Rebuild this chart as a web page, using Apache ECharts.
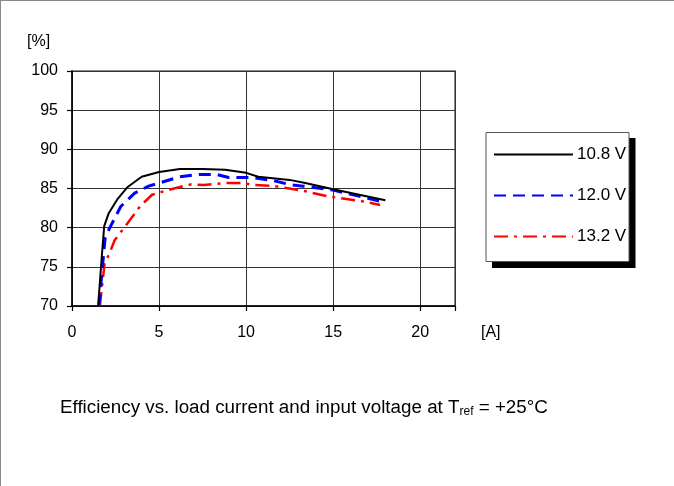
<!DOCTYPE html>
<html>
<head>
<meta charset="utf-8">
<script src="https://cdn.jsdelivr.net/npm/echarts@6/dist/echarts.min.js"></script>
<style>
html,body{margin:0;padding:0;background:#fff;}
#chart{width:674px;height:486px;}
</style>
</head>
<body>
<div id="chart"></div>
<script>
// Data (load current [A], efficiency [%])
var seriesNames = ['10.8 V', '12.0 V', '13.2 V'];
var eff108 = [[1.5,70],[1.7,76],[1.85,80.2],[2.1,81.8],[2.6,83.6],[3.2,85.2],[4.0,86.5],[5.0,87.1],[6.2,87.5],[7.5,87.5],[8.8,87.4],[10,87.0],[10.7,86.5],[12.5,86.1],[13.4,85.7],[15,84.9],[18,83.5]];
var eff120 = [[1.55,70],[1.75,75],[1.9,78.6],[2.15,79.9],[2.8,82.7],[3.6,84.4],[4.4,85.3],[5,85.7],[6.2,86.5],[7.3,86.8],[8.3,86.8],[9,86.4],[10.3,86.4],[11.6,86],[12.5,85.5],[13.3,85.3],[15,84.8],[17,83.75],[18,83.2]];
var eff132 = [[1.6,70],[1.75,73],[1.87,75.4],[2.15,76.7],[2.45,78.4],[3.2,80.6],[3.9,82.7],[4.6,84.2],[5.5,84.8],[6.2,85.2],[6.8,85.5],[7.6,85.45],[8.8,85.7],[9.7,85.7],[10.5,85.45],[11.6,85.3],[12.5,85.0],[13.3,84.7],[14.7,84.0],[16.6,83.4],[17.7,82.9]];
var xTicks = [0, 5, 10, 15, 20];
var yTicks = [70, 75, 80, 85, 90, 95, 100];

var FONT = '"Liberation Sans", Arial, Helvetica, sans-serif';
var chart = echarts.init(document.getElementById('chart'), null, {renderer: 'canvas'});

var option = {
  animation: false,
  backgroundColor: '#fff',
  textStyle: {fontFamily: FONT},
  grid: {left: 72, top: 71, width: 383, height: 235, show: true, borderColor: '#8a8a8a', borderWidth: 2, backgroundColor: 'transparent'},
  xAxis: {
    type: 'value', min: 0, max: 22, interval: 5,
    axisLine: {show: true, onZero: false, lineStyle: {color: '#000', width: 1.5}},
    axisTick: {show: true, length: 5, lineStyle: {color: '#000', width: 1.2}},
    splitLine: {show: true, lineStyle: {color: '#333', width: 1}},
    axisLabel: {fontSize: 16, color: '#000', margin: 19, fontFamily: FONT,
      formatter: function (v) { return xTicks.indexOf(v) >= 0 ? String(v) : ''; }}
  },
  yAxis: {
    type: 'value', min: 70, max: 100, interval: 5,
    axisLine: {show: true, lineStyle: {color: '#000', width: 1.5}},
    axisTick: {show: true, length: 5, lineStyle: {color: '#000', width: 1.2}},
    splitLine: {show: true, lineStyle: {color: '#333', width: 1}},
    axisLabel: {fontSize: 16, color: '#000', margin: 14, fontFamily: FONT,
      formatter: function (v) { return yTicks.indexOf(v) >= 0 ? String(v) : ''; }}
  },
  legend: {
    orient: 'vertical', left: 486, top: 146, z: 10,
    padding: [0, 0, 0, 7],
    itemWidth: 79, itemHeight: 14, itemGap: 24,
    itemStyle: {color: 'rgba(0,0,0,0)', opacity: 0, borderWidth: 0},
    textStyle: {fontSize: 17, lineHeight: 14, color: '#000', fontFamily: FONT, padding: [0, 0, 0, -1]},
    data: seriesNames,
    selectedMode: false
  },
  graphic: [
    {type: 'line', shape: {x1: 0, y1: 0.5, x2: 674, y2: 0.5}, style: {stroke: '#888', lineWidth: 1}, z: 1},
    {type: 'line', shape: {x1: 0.5, y1: 0, x2: 0.5, y2: 486}, style: {stroke: '#888', lineWidth: 1}, z: 1},
    {type: 'rect', shape: {x: 492, y: 138, width: 143.5, height: 130}, style: {fill: '#000'}, z: 1},
    {type: 'rect', shape: {x: 486, y: 132.5, width: 143, height: 129}, style: {fill: '#fff', stroke: '#555', lineWidth: 1}, z: 2},
    {type: 'text', left: 27, top: 34, style: {text: '[%]', fontSize: 16, fill: '#000', fontFamily: FONT}, z: 3},
    {type: 'text', left: 481, top: 325, style: {text: '[A]', fontSize: 16, fill: '#000', fontFamily: FONT}, z: 3},
    {type: 'text', left: 60, top: 398, style: {
      text: 'Efficiency vs. load current and input voltage at T{sub|ref} = +25°C',
      fontSize: 18.8, fill: '#000', fontFamily: FONT,
      rich: {sub: {fontSize: 12, fill: '#000', fontFamily: FONT, padding: [9, 0, 0, 0]}}
    }, z: 3}
  ],
  series: [
    {name: seriesNames[0], type: 'line', data: eff108, showSymbol: false, symbol: 'none', z: 5,
      lineStyle: {color: '#000', width: 2, type: 'solid'}, itemStyle: {color: '#000'}},
    {name: seriesNames[1], type: 'line', data: eff120, showSymbol: false, symbol: 'none', z: 4,
      lineStyle: {color: '#0000ff', width: 3, type: [12, 7]}, itemStyle: {color: '#0000ff'}},
    {name: seriesNames[2], type: 'line', data: eff132, showSymbol: false, symbol: 'none', z: 3,
      lineStyle: {color: '#ff0000', width: 2.5, type: [14, 6, 3, 6]}, itemStyle: {color: '#ff0000'}}
  ]
};
chart.setOption(option);
</script>
</body>
</html>
